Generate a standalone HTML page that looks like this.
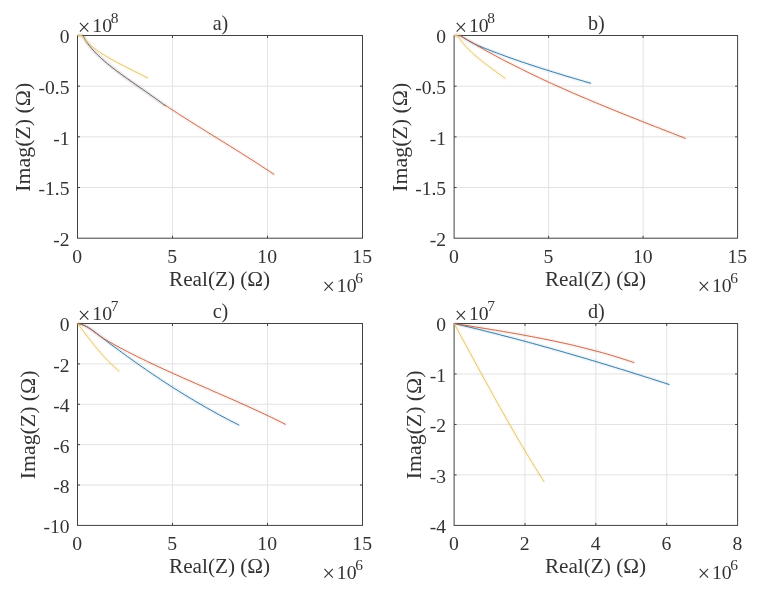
<!DOCTYPE html>
<html><head><meta charset="utf-8"><title>chart</title>
<style>
html,body{margin:0;padding:0;background:#fff;}
svg{display:block;}
text{font-family:"Liberation Serif",serif;fill:#333333;}
.tk{font-size:18.6px;}
.lb{font-size:20.2px;}
.sp{font-size:14.6px;}
.mx{font-size:22.5px;}
.g{stroke:#e3e3e3;stroke-width:1;}
.ax{stroke:#424242;stroke-width:1;fill:none;}
.t{stroke:#424242;stroke-width:1;}
.c{fill:none;stroke-width:0.95;stroke-linejoin:round;stroke-linecap:butt;}
.h{fill:none;stroke-width:4;stroke-opacity:0.07;stroke-linejoin:round;stroke-linecap:butt;}
</style></head><body>
<svg width="757" height="592" viewBox="0 0 757 592">
<rect width="757" height="592" fill="#fff"/>

<g id="ax_a">
<line class="g" x1="172.50" y1="35.50" x2="172.50" y2="238.20"/>
<line class="g" x1="267.50" y1="35.50" x2="267.50" y2="238.20"/>
<line class="g" x1="77.50" y1="86.17" x2="362.50" y2="86.17"/>
<line class="g" x1="77.50" y1="136.85" x2="362.50" y2="136.85"/>
<line class="g" x1="77.50" y1="187.52" x2="362.50" y2="187.52"/>
<rect class="ax" x="77.50" y="35.50" width="285.00" height="202.70"/>
<line class="t" x1="172.50" y1="238.20" x2="172.50" y2="235.70"/>
<line class="t" x1="172.50" y1="35.50" x2="172.50" y2="38.00"/>
<line class="t" x1="267.50" y1="238.20" x2="267.50" y2="235.70"/>
<line class="t" x1="267.50" y1="35.50" x2="267.50" y2="38.00"/>
<line class="t" x1="77.50" y1="86.17" x2="80.00" y2="86.17"/>
<line class="t" x1="362.50" y1="86.17" x2="360.00" y2="86.17"/>
<line class="t" x1="77.50" y1="136.85" x2="80.00" y2="136.85"/>
<line class="t" x1="362.50" y1="136.85" x2="360.00" y2="136.85"/>
<line class="t" x1="77.50" y1="187.52" x2="80.00" y2="187.52"/>
<line class="t" x1="362.50" y1="187.52" x2="360.00" y2="187.52"/>
<path class="h" stroke="#0072BD" d="M77.5 35.5 L82.5 35.6 L83.6 36.6 L85.6 40.6 L86.8 42.3 L88.0 43.9 L89.2 45.5 L90.5 47.1 L91.8 48.6 L93.1 50.1 L94.5 51.6 L95.9 53.1 L97.3 54.5 L98.8 55.9 L100.2 57.3 L101.7 58.7 L103.2 60.0 L104.7 61.4 L106.3 62.7 L107.8 64.0 L109.4 65.3 L111.0 66.5 L112.6 67.8 L114.2 69.0 L115.8 70.3 L117.4 71.5 L119.1 72.7 L120.7 73.9 L122.3 75.1 L124.0 76.3 L125.7 77.5 L127.3 78.7 L129.0 79.9 L130.7 81.1 L132.3 82.2 L134.0 83.4 L135.7 84.6 L137.4 85.7 L139.0 86.9 L140.7 88.1 L142.4 89.2 L144.1 90.4 L145.7 91.6 L147.4 92.7 L149.1 93.9 L150.7 95.1 L152.4 96.3 L154.1 97.4 L155.7 98.6 L157.3 99.8 L159.0 101.0 L160.6 102.2 L162.2 103.4 L163.8 104.7 L165.4 105.9"/>
<path class="c" stroke="#5b5560" d="M77.5 35.5 L82.5 35.6 L83.6 36.6 L85.6 40.6 L86.8 42.3 L88.0 43.9 L89.2 45.5 L90.5 47.1 L91.8 48.6 L93.1 50.1 L94.5 51.6 L95.9 53.1 L97.3 54.5 L98.8 55.9 L100.2 57.3 L101.7 58.7 L103.2 60.0 L104.7 61.4 L106.3 62.7 L107.8 64.0 L109.4 65.3 L111.0 66.5 L112.6 67.8 L114.2 69.0 L115.8 70.3 L117.4 71.5 L119.1 72.7 L120.7 73.9 L122.3 75.1 L124.0 76.3 L125.7 77.5 L127.3 78.7 L129.0 79.9 L130.7 81.1 L132.3 82.2 L134.0 83.4 L135.7 84.6 L137.4 85.7 L139.0 86.9 L140.7 88.1 L142.4 89.2 L144.1 90.4 L145.7 91.6 L147.4 92.7 L149.1 93.9 L150.7 95.1 L152.4 96.3 L154.1 97.4 L155.7 98.6 L157.3 99.8 L159.0 101.0 L160.6 102.2 L162.2 103.4 L163.8 104.7 L165.4 105.9"/>
<path class="h" stroke="#D95319" d="M77.5 35.5 L82.5 35.6 L83.6 36.6 L85.6 40.6 L86.7 42.4 L87.9 44.0 L89.1 45.7 L90.3 47.2 L91.6 48.7 L92.9 50.2 L94.3 51.6 L95.7 53.0 L97.2 54.4 L98.6 55.7 L100.1 57.0 L101.6 58.3 L103.1 59.6 L104.6 60.9 L106.1 62.2 L107.6 63.4 L109.2 64.7 L110.7 65.9 L112.3 67.2 L113.8 68.4 L115.4 69.7 L117.0 70.9 L118.6 72.2 L120.2 73.4 L121.7 74.6 L123.3 75.8 L124.9 77.0 L126.6 78.3 L128.2 79.5 L129.8 80.7 L131.4 81.9 L133.0 83.0 L134.7 84.2 L136.3 85.4 L137.9 86.6 L139.6 87.7 L141.2 88.9 L142.9 90.1 L144.5 91.2 L146.2 92.4 L147.8 93.5 L149.5 94.7 L151.1 95.8 L152.8 96.9 L154.4 98.1 L156.1 99.2 L157.8 100.3 L159.4 101.4 L161.1 102.5 L162.8 103.6 L164.4 104.7 L166.1 105.8 L167.8 106.9 L169.4 108.0 L171.1 109.1 L172.8 110.2 L174.5 111.3 L176.2 112.4 L177.8 113.5 L179.5 114.6 L181.2 115.6 L182.9 116.7 L184.6 117.8 L186.3 118.9 L188.0 119.9 L189.6 121.0 L191.3 122.1 L193.0 123.1 L194.7 124.2 L196.4 125.3 L198.1 126.3 L199.8 127.4 L201.5 128.4 L203.2 129.5 L204.9 130.5 L206.6 131.6 L208.3 132.7 L210.0 133.7 L211.7 134.8 L213.4 135.8 L215.1 136.9 L216.8 137.9 L218.5 139.0 L220.2 140.0 L221.9 141.1 L223.6 142.1 L225.3 143.2 L227.0 144.3 L228.7 145.3 L230.4 146.4 L232.1 147.4 L233.8 148.5 L235.5 149.5 L237.2 150.6 L238.9 151.7 L240.6 152.7 L242.2 153.8 L243.9 154.9 L245.6 155.9 L247.3 157.0 L249.0 158.1 L250.7 159.2 L252.4 160.2 L254.1 161.3 L255.8 162.4 L257.5 163.5 L259.2 164.6 L260.9 165.7 L262.5 166.8 L264.2 167.9 L265.9 169.0 L267.6 170.1 L269.3 171.2 L270.9 172.3 L272.6 173.4 L274.3 174.5"/>
<path class="c" stroke="#bf5f45" d="M164.4 104.7 L166.1 105.8 L167.8 106.9 L169.4 108.0 L171.1 109.1 L172.8 110.2 L174.5 111.3 L176.2 112.4 L177.8 113.5 L179.5 114.6 L181.2 115.6 L182.9 116.7 L184.6 117.8 L186.3 118.9 L188.0 119.9 L189.6 121.0 L191.3 122.1 L193.0 123.1 L194.7 124.2 L196.4 125.3 L198.1 126.3 L199.8 127.4 L201.5 128.4 L203.2 129.5 L204.9 130.5 L206.6 131.6 L208.3 132.7 L210.0 133.7 L211.7 134.8 L213.4 135.8 L215.1 136.9 L216.8 137.9 L218.5 139.0 L220.2 140.0 L221.9 141.1 L223.6 142.1 L225.3 143.2 L227.0 144.3 L228.7 145.3 L230.4 146.4 L232.1 147.4 L233.8 148.5 L235.5 149.5 L237.2 150.6 L238.9 151.7 L240.6 152.7 L242.2 153.8 L243.9 154.9 L245.6 155.9 L247.3 157.0 L249.0 158.1 L250.7 159.2 L252.4 160.2 L254.1 161.3 L255.8 162.4 L257.5 163.5 L259.2 164.6 L260.9 165.7 L262.5 166.8 L264.2 167.9 L265.9 169.0 L267.6 170.1 L269.3 171.2 L270.9 172.3 L272.6 173.4 L274.3 174.5"/>
<path class="h" stroke="#EDB120" d="M77.5 35.5 L81.9 35.5 L84.5 39.0 L85.9 40.5 L87.3 42.0 L88.8 43.4 L90.2 44.8 L91.8 46.1 L93.3 47.4 L94.9 48.7 L96.5 49.9 L98.1 51.1 L99.7 52.2 L101.4 53.3 L103.1 54.4 L104.8 55.5 L106.5 56.5 L108.3 57.5 L110.0 58.6 L111.8 59.5 L113.6 60.5 L115.4 61.5 L117.2 62.5 L119.0 63.4 L120.8 64.4 L122.6 65.3 L124.5 66.2 L126.3 67.2 L128.1 68.1 L130.0 69.0 L131.8 69.9 L133.6 70.9 L135.4 71.8 L137.3 72.7 L139.1 73.6 L140.9 74.5 L142.7 75.4 L144.5 76.4 L146.2 77.3 L148.0 78.2"/>
<path class="c" stroke="#dfc457" d="M77.5 35.5 L81.9 35.5 L84.5 39.0 L85.9 40.5 L87.3 42.0 L88.8 43.4 L90.2 44.8 L91.8 46.1 L93.3 47.4 L94.9 48.7 L96.5 49.9 L98.1 51.1 L99.7 52.2 L101.4 53.3 L103.1 54.4 L104.8 55.5 L106.5 56.5 L108.3 57.5 L110.0 58.6 L111.8 59.5 L113.6 60.5 L115.4 61.5 L117.2 62.5 L119.0 63.4 L120.8 64.4 L122.6 65.3 L124.5 66.2 L126.3 67.2 L128.1 68.1 L130.0 69.0 L131.8 69.9 L133.6 70.9 L135.4 71.8 L137.3 72.7 L139.1 73.6 L140.9 74.5 L142.7 75.4 L144.5 76.4 L146.2 77.3 L148.0 78.2"/>
</g>
<g id="ax_b">
<line class="g" x1="548.60" y1="35.50" x2="548.60" y2="238.20"/>
<line class="g" x1="643.10" y1="35.50" x2="643.10" y2="238.20"/>
<line class="g" x1="454.10" y1="86.17" x2="737.60" y2="86.17"/>
<line class="g" x1="454.10" y1="136.85" x2="737.60" y2="136.85"/>
<line class="g" x1="454.10" y1="187.52" x2="737.60" y2="187.52"/>
<rect class="ax" x="454.10" y="35.50" width="283.50" height="202.70"/>
<line class="t" x1="548.60" y1="238.20" x2="548.60" y2="235.70"/>
<line class="t" x1="548.60" y1="35.50" x2="548.60" y2="38.00"/>
<line class="t" x1="643.10" y1="238.20" x2="643.10" y2="235.70"/>
<line class="t" x1="643.10" y1="35.50" x2="643.10" y2="38.00"/>
<line class="t" x1="454.10" y1="86.17" x2="456.60" y2="86.17"/>
<line class="t" x1="737.60" y1="86.17" x2="735.10" y2="86.17"/>
<line class="t" x1="454.10" y1="136.85" x2="456.60" y2="136.85"/>
<line class="t" x1="737.60" y1="136.85" x2="735.10" y2="136.85"/>
<line class="t" x1="454.10" y1="187.52" x2="456.60" y2="187.52"/>
<line class="t" x1="737.60" y1="187.52" x2="735.10" y2="187.52"/>
<path class="h" stroke="#0072BD" d="M454.1 35.5 L459.5 35.6 L460.6 35.8 L462.3 36.9 L464.1 38.0 L465.8 39.1 L467.6 40.1 L469.3 41.1 L471.1 42.1 L472.9 43.0 L474.7 43.9 L476.5 44.8 L478.3 45.6 L480.1 46.4 L481.9 47.1 L483.7 47.9 L485.6 48.6 L487.4 49.3 L489.3 50.1 L491.1 50.8 L493.0 51.5 L494.8 52.2 L496.7 52.9 L498.6 53.6 L500.5 54.3 L502.4 55.0 L504.2 55.7 L506.1 56.4 L508.0 57.1 L509.9 57.8 L511.8 58.4 L513.8 59.1 L515.7 59.8 L517.6 60.4 L519.5 61.1 L521.4 61.8 L523.4 62.4 L525.3 63.1 L527.2 63.7 L529.2 64.4 L531.1 65.0 L533.0 65.6 L535.0 66.3 L536.9 66.9 L538.8 67.5 L540.8 68.2 L542.7 68.8 L544.7 69.4 L546.6 70.0 L548.6 70.6 L550.5 71.2 L552.4 71.8 L554.4 72.4 L556.3 73.0 L558.3 73.6 L560.2 74.2 L562.1 74.8 L564.1 75.4 L566.0 76.0 L567.9 76.6 L569.9 77.1 L571.8 77.7 L573.7 78.3 L575.7 78.9 L577.6 79.4 L579.5 80.0 L581.4 80.5 L583.3 81.1 L585.2 81.7 L587.1 82.2 L589.0 82.8 L590.9 83.3"/>
<path class="c" stroke="#2a6f9c" d="M454.1 35.5 L459.5 35.6 L460.6 35.8 L462.3 36.9 L464.1 38.0 L465.8 39.1 L467.6 40.1 L469.3 41.1 L471.1 42.1 L472.9 43.0 L474.7 43.9 L476.5 44.8 L478.3 45.6 L480.1 46.4 L481.9 47.1 L483.7 47.9 L485.6 48.6 L487.4 49.3 L489.3 50.1 L491.1 50.8 L493.0 51.5 L494.8 52.2 L496.7 52.9 L498.6 53.6 L500.5 54.3 L502.4 55.0 L504.2 55.7 L506.1 56.4 L508.0 57.1 L509.9 57.8 L511.8 58.4 L513.8 59.1 L515.7 59.8 L517.6 60.4 L519.5 61.1 L521.4 61.8 L523.4 62.4 L525.3 63.1 L527.2 63.7 L529.2 64.4 L531.1 65.0 L533.0 65.6 L535.0 66.3 L536.9 66.9 L538.8 67.5 L540.8 68.2 L542.7 68.8 L544.7 69.4 L546.6 70.0 L548.6 70.6 L550.5 71.2 L552.4 71.8 L554.4 72.4 L556.3 73.0 L558.3 73.6 L560.2 74.2 L562.1 74.8 L564.1 75.4 L566.0 76.0 L567.9 76.6 L569.9 77.1 L571.8 77.7 L573.7 78.3 L575.7 78.9 L577.6 79.4 L579.5 80.0 L581.4 80.5 L583.3 81.1 L585.2 81.7 L587.1 82.2 L589.0 82.8 L590.9 83.3"/>
<path class="h" stroke="#D95319" d="M454.1 35.5 L459.5 35.6 L460.6 35.8 L462.3 36.8 L464.0 37.9 L465.8 38.9 L467.5 40.0 L469.2 41.0 L471.0 42.0 L472.7 43.0 L474.4 44.0 L476.2 45.0 L477.9 46.1 L479.7 47.0 L481.4 48.0 L483.2 49.0 L484.9 50.0 L486.7 51.0 L488.5 52.0 L490.2 52.9 L492.0 53.9 L493.8 54.9 L495.5 55.8 L497.3 56.8 L499.1 57.7 L500.9 58.7 L502.6 59.6 L504.4 60.5 L506.2 61.5 L508.0 62.4 L509.8 63.3 L511.6 64.2 L513.4 65.1 L515.2 66.0 L517.0 66.9 L518.8 67.8 L520.6 68.7 L522.4 69.6 L524.2 70.5 L526.0 71.4 L527.8 72.3 L529.6 73.2 L531.4 74.0 L533.2 74.9 L535.0 75.8 L536.9 76.6 L538.7 77.5 L540.5 78.4 L542.3 79.2 L544.2 80.1 L546.0 80.9 L547.8 81.8 L549.6 82.6 L551.5 83.4 L553.3 84.3 L555.1 85.1 L557.0 85.9 L558.8 86.8 L560.7 87.6 L562.5 88.4 L564.3 89.2 L566.2 90.0 L568.0 90.8 L569.9 91.7 L571.7 92.5 L573.6 93.3 L575.4 94.1 L577.3 94.9 L579.1 95.7 L581.0 96.5 L582.8 97.2 L584.7 98.0 L586.5 98.8 L588.4 99.6 L590.3 100.4 L592.1 101.2 L594.0 102.0 L595.8 102.7 L597.7 103.5 L599.6 104.3 L601.4 105.0 L603.3 105.8 L605.2 106.6 L607.0 107.3 L608.9 108.1 L610.8 108.9 L612.6 109.6 L614.5 110.4 L616.4 111.2 L618.2 111.9 L620.1 112.7 L622.0 113.4 L623.8 114.2 L625.7 114.9 L627.6 115.7 L629.5 116.4 L631.3 117.2 L633.2 117.9 L635.1 118.6 L637.0 119.4 L638.8 120.1 L640.7 120.9 L642.6 121.6 L644.5 122.4 L646.3 123.1 L648.2 123.8 L650.1 124.6 L652.0 125.3 L653.8 126.0 L655.7 126.8 L657.6 127.5 L659.5 128.2 L661.3 129.0 L663.2 129.7 L665.1 130.4 L667.0 131.2 L668.8 131.9 L670.7 132.6 L672.6 133.4 L674.5 134.1 L676.3 134.8 L678.2 135.6 L680.1 136.3 L682.0 137.0 L683.8 137.8 L685.7 138.5"/>
<path class="c" stroke="#bf5f45" d="M454.1 35.5 L459.5 35.6 L460.6 35.8 L462.3 36.8 L464.0 37.9 L465.8 38.9 L467.5 40.0 L469.2 41.0 L471.0 42.0 L472.7 43.0 L474.4 44.0 L476.2 45.0 L477.9 46.1 L479.7 47.0 L481.4 48.0 L483.2 49.0 L484.9 50.0 L486.7 51.0 L488.5 52.0 L490.2 52.9 L492.0 53.9 L493.8 54.9 L495.5 55.8 L497.3 56.8 L499.1 57.7 L500.9 58.7 L502.6 59.6 L504.4 60.5 L506.2 61.5 L508.0 62.4 L509.8 63.3 L511.6 64.2 L513.4 65.1 L515.2 66.0 L517.0 66.9 L518.8 67.8 L520.6 68.7 L522.4 69.6 L524.2 70.5 L526.0 71.4 L527.8 72.3 L529.6 73.2 L531.4 74.0 L533.2 74.9 L535.0 75.8 L536.9 76.6 L538.7 77.5 L540.5 78.4 L542.3 79.2 L544.2 80.1 L546.0 80.9 L547.8 81.8 L549.6 82.6 L551.5 83.4 L553.3 84.3 L555.1 85.1 L557.0 85.9 L558.8 86.8 L560.7 87.6 L562.5 88.4 L564.3 89.2 L566.2 90.0 L568.0 90.8 L569.9 91.7 L571.7 92.5 L573.6 93.3 L575.4 94.1 L577.3 94.9 L579.1 95.7 L581.0 96.5 L582.8 97.2 L584.7 98.0 L586.5 98.8 L588.4 99.6 L590.3 100.4 L592.1 101.2 L594.0 102.0 L595.8 102.7 L597.7 103.5 L599.6 104.3 L601.4 105.0 L603.3 105.8 L605.2 106.6 L607.0 107.3 L608.9 108.1 L610.8 108.9 L612.6 109.6 L614.5 110.4 L616.4 111.2 L618.2 111.9 L620.1 112.7 L622.0 113.4 L623.8 114.2 L625.7 114.9 L627.6 115.7 L629.5 116.4 L631.3 117.2 L633.2 117.9 L635.1 118.6 L637.0 119.4 L638.8 120.1 L640.7 120.9 L642.6 121.6 L644.5 122.4 L646.3 123.1 L648.2 123.8 L650.1 124.6 L652.0 125.3 L653.8 126.0 L655.7 126.8 L657.6 127.5 L659.5 128.2 L661.3 129.0 L663.2 129.7 L665.1 130.4 L667.0 131.2 L668.8 131.9 L670.7 132.6 L672.6 133.4 L674.5 134.1 L676.3 134.8 L678.2 135.6 L680.1 136.3 L682.0 137.0 L683.8 137.8 L685.7 138.5"/>
<path class="h" stroke="#EDB120" d="M454.1 35.5 L457.4 35.6 L458.2 36.6 L459.4 38.3 L460.6 40.0 L461.8 41.6 L463.1 43.2 L464.4 44.8 L465.7 46.3 L467.1 47.8 L468.5 49.3 L470.0 50.7 L471.4 52.1 L472.9 53.5 L474.5 54.9 L476.0 56.3 L477.6 57.6 L479.1 58.9 L480.7 60.2 L482.4 61.5 L484.0 62.8 L485.6 64.0 L487.3 65.3 L488.9 66.5 L490.6 67.7 L492.2 68.9 L493.9 70.2 L495.6 71.4 L497.2 72.6 L498.9 73.8 L500.6 75.0 L502.2 76.2 L503.9 77.4 L505.5 78.6"/>
<path class="c" stroke="#dfc457" d="M454.1 35.5 L457.4 35.6 L458.2 36.6 L459.4 38.3 L460.6 40.0 L461.8 41.6 L463.1 43.2 L464.4 44.8 L465.7 46.3 L467.1 47.8 L468.5 49.3 L470.0 50.7 L471.4 52.1 L472.9 53.5 L474.5 54.9 L476.0 56.3 L477.6 57.6 L479.1 58.9 L480.7 60.2 L482.4 61.5 L484.0 62.8 L485.6 64.0 L487.3 65.3 L488.9 66.5 L490.6 67.7 L492.2 68.9 L493.9 70.2 L495.6 71.4 L497.2 72.6 L498.9 73.8 L500.6 75.0 L502.2 76.2 L503.9 77.4 L505.5 78.6"/>
</g>
<g id="ax_c">
<line class="g" x1="172.50" y1="323.50" x2="172.50" y2="525.40"/>
<line class="g" x1="267.50" y1="323.50" x2="267.50" y2="525.40"/>
<line class="g" x1="77.50" y1="363.88" x2="362.50" y2="363.88"/>
<line class="g" x1="77.50" y1="404.26" x2="362.50" y2="404.26"/>
<line class="g" x1="77.50" y1="444.64" x2="362.50" y2="444.64"/>
<line class="g" x1="77.50" y1="485.02" x2="362.50" y2="485.02"/>
<rect class="ax" x="77.50" y="323.50" width="285.00" height="201.90"/>
<line class="t" x1="172.50" y1="525.40" x2="172.50" y2="522.90"/>
<line class="t" x1="172.50" y1="323.50" x2="172.50" y2="326.00"/>
<line class="t" x1="267.50" y1="525.40" x2="267.50" y2="522.90"/>
<line class="t" x1="267.50" y1="323.50" x2="267.50" y2="326.00"/>
<line class="t" x1="77.50" y1="363.88" x2="80.00" y2="363.88"/>
<line class="t" x1="362.50" y1="363.88" x2="360.00" y2="363.88"/>
<line class="t" x1="77.50" y1="404.26" x2="80.00" y2="404.26"/>
<line class="t" x1="362.50" y1="404.26" x2="360.00" y2="404.26"/>
<line class="t" x1="77.50" y1="444.64" x2="80.00" y2="444.64"/>
<line class="t" x1="362.50" y1="444.64" x2="360.00" y2="444.64"/>
<line class="t" x1="77.50" y1="485.02" x2="80.00" y2="485.02"/>
<line class="t" x1="362.50" y1="485.02" x2="360.00" y2="485.02"/>
<path class="h" stroke="#0072BD" d="M77.5 323.5 L79.4 323.9 L81.3 324.4 L83.2 325.0 L85.0 325.8 L86.7 326.7 L88.5 327.7 L90.2 328.7 L91.9 329.9 L93.6 331.1 L95.2 332.3 L96.8 333.6 L98.5 334.8 L100.1 336.1 L101.7 337.3 L103.3 338.6 L104.9 339.8 L106.5 341.0 L108.1 342.2 L109.7 343.5 L111.3 344.7 L113.0 345.9 L114.6 347.1 L116.2 348.3 L117.8 349.5 L119.4 350.6 L121.0 351.8 L122.6 353.0 L124.3 354.2 L125.9 355.4 L127.5 356.6 L129.2 357.7 L130.8 358.9 L132.4 360.1 L134.1 361.3 L135.7 362.4 L137.4 363.6 L139.0 364.8 L140.7 365.9 L142.3 367.1 L144.0 368.2 L145.7 369.4 L147.3 370.5 L149.0 371.7 L150.7 372.8 L152.3 373.9 L154.0 375.1 L155.7 376.2 L157.4 377.3 L159.0 378.4 L160.7 379.6 L162.4 380.7 L164.1 381.8 L165.8 382.9 L167.5 384.0 L169.2 385.1 L170.9 386.2 L172.6 387.3 L174.3 388.4 L176.0 389.4 L177.7 390.5 L179.5 391.6 L181.2 392.7 L182.9 393.7 L184.6 394.8 L186.3 395.8 L188.1 396.9 L189.8 397.9 L191.5 399.0 L193.3 400.0 L195.0 401.1 L196.7 402.1 L198.5 403.1 L200.2 404.1 L202.0 405.1 L203.7 406.2 L205.5 407.2 L207.3 408.2 L209.0 409.1 L210.8 410.1 L212.5 411.1 L214.3 412.1 L216.1 413.1 L217.8 414.0 L219.6 415.0 L221.4 416.0 L223.2 416.9 L225.0 417.9 L226.7 418.8 L228.5 419.7 L230.3 420.7 L232.1 421.6 L233.9 422.5 L235.7 423.4 L237.5 424.3 L239.3 425.2"/>
<path class="c" stroke="#2a6f9c" d="M77.5 323.5 L79.4 323.9 L81.3 324.4 L83.2 325.0 L85.0 325.8 L86.7 326.7 L88.5 327.7 L90.2 328.7 L91.9 329.9 L93.6 331.1 L95.2 332.3 L96.8 333.6 L98.5 334.8 L100.1 336.1 L101.7 337.3 L103.3 338.6 L104.9 339.8 L106.5 341.0 L108.1 342.2 L109.7 343.5 L111.3 344.7 L113.0 345.9 L114.6 347.1 L116.2 348.3 L117.8 349.5 L119.4 350.6 L121.0 351.8 L122.6 353.0 L124.3 354.2 L125.9 355.4 L127.5 356.6 L129.2 357.7 L130.8 358.9 L132.4 360.1 L134.1 361.3 L135.7 362.4 L137.4 363.6 L139.0 364.8 L140.7 365.9 L142.3 367.1 L144.0 368.2 L145.7 369.4 L147.3 370.5 L149.0 371.7 L150.7 372.8 L152.3 373.9 L154.0 375.1 L155.7 376.2 L157.4 377.3 L159.0 378.4 L160.7 379.6 L162.4 380.7 L164.1 381.8 L165.8 382.9 L167.5 384.0 L169.2 385.1 L170.9 386.2 L172.6 387.3 L174.3 388.4 L176.0 389.4 L177.7 390.5 L179.5 391.6 L181.2 392.7 L182.9 393.7 L184.6 394.8 L186.3 395.8 L188.1 396.9 L189.8 397.9 L191.5 399.0 L193.3 400.0 L195.0 401.1 L196.7 402.1 L198.5 403.1 L200.2 404.1 L202.0 405.1 L203.7 406.2 L205.5 407.2 L207.3 408.2 L209.0 409.1 L210.8 410.1 L212.5 411.1 L214.3 412.1 L216.1 413.1 L217.8 414.0 L219.6 415.0 L221.4 416.0 L223.2 416.9 L225.0 417.9 L226.7 418.8 L228.5 419.7 L230.3 420.7 L232.1 421.6 L233.9 422.5 L235.7 423.4 L237.5 424.3 L239.3 425.2"/>
<path class="h" stroke="#D95319" d="M77.5 323.5 L79.4 323.8 L81.3 324.4 L83.2 325.0 L84.9 325.8 L86.7 326.7 L88.4 327.8 L90.0 328.8 L91.7 330.0 L93.3 331.2 L94.9 332.4 L96.6 333.6 L98.2 334.8 L99.9 336.0 L101.5 337.1 L103.2 338.2 L104.9 339.3 L106.6 340.3 L108.3 341.3 L110.1 342.3 L111.8 343.3 L113.5 344.2 L115.3 345.2 L117.0 346.1 L118.8 347.1 L120.5 348.0 L122.3 348.9 L124.1 349.9 L125.8 350.8 L127.6 351.7 L129.4 352.6 L131.2 353.5 L132.9 354.4 L134.7 355.3 L136.5 356.2 L138.3 357.1 L140.1 358.0 L141.9 358.8 L143.7 359.7 L145.5 360.6 L147.3 361.5 L149.1 362.3 L150.9 363.2 L152.7 364.0 L154.5 364.9 L156.3 365.7 L158.1 366.6 L159.9 367.4 L161.8 368.3 L163.6 369.1 L165.4 369.9 L167.2 370.8 L169.0 371.6 L170.9 372.4 L172.7 373.3 L174.5 374.1 L176.3 374.9 L178.2 375.7 L180.0 376.5 L181.8 377.4 L183.7 378.2 L185.5 379.0 L187.3 379.8 L189.2 380.6 L191.0 381.4 L192.9 382.2 L194.7 383.0 L196.5 383.8 L198.4 384.6 L200.2 385.4 L202.0 386.2 L203.9 387.0 L205.7 387.8 L207.6 388.6 L209.4 389.4 L211.2 390.2 L213.1 391.1 L214.9 391.9 L216.8 392.7 L218.6 393.5 L220.4 394.3 L222.3 395.1 L224.1 395.9 L226.0 396.7 L227.8 397.5 L229.6 398.3 L231.5 399.1 L233.3 399.9 L235.1 400.7 L237.0 401.5 L238.8 402.4 L240.6 403.2 L242.5 404.0 L244.3 404.8 L246.1 405.6 L247.9 406.5 L249.8 407.3 L251.6 408.1 L253.4 409.0 L255.2 409.8 L257.0 410.6 L258.8 411.5 L260.7 412.3 L262.5 413.2 L264.3 414.0 L266.1 414.9 L267.9 415.7 L269.7 416.6 L271.5 417.4 L273.3 418.3 L275.1 419.2 L276.9 420.1 L278.7 420.9 L280.5 421.8 L282.2 422.7 L284.0 423.6 L285.8 424.5"/>
<path class="c" stroke="#bf5f45" d="M77.5 323.5 L79.4 323.8 L81.3 324.4 L83.2 325.0 L84.9 325.8 L86.7 326.7 L88.4 327.8 L90.0 328.8 L91.7 330.0 L93.3 331.2 L94.9 332.4 L96.6 333.6 L98.2 334.8 L99.9 336.0 L101.5 337.1 L103.2 338.2 L104.9 339.3 L106.6 340.3 L108.3 341.3 L110.1 342.3 L111.8 343.3 L113.5 344.2 L115.3 345.2 L117.0 346.1 L118.8 347.1 L120.5 348.0 L122.3 348.9 L124.1 349.9 L125.8 350.8 L127.6 351.7 L129.4 352.6 L131.2 353.5 L132.9 354.4 L134.7 355.3 L136.5 356.2 L138.3 357.1 L140.1 358.0 L141.9 358.8 L143.7 359.7 L145.5 360.6 L147.3 361.5 L149.1 362.3 L150.9 363.2 L152.7 364.0 L154.5 364.9 L156.3 365.7 L158.1 366.6 L159.9 367.4 L161.8 368.3 L163.6 369.1 L165.4 369.9 L167.2 370.8 L169.0 371.6 L170.9 372.4 L172.7 373.3 L174.5 374.1 L176.3 374.9 L178.2 375.7 L180.0 376.5 L181.8 377.4 L183.7 378.2 L185.5 379.0 L187.3 379.8 L189.2 380.6 L191.0 381.4 L192.9 382.2 L194.7 383.0 L196.5 383.8 L198.4 384.6 L200.2 385.4 L202.0 386.2 L203.9 387.0 L205.7 387.8 L207.6 388.6 L209.4 389.4 L211.2 390.2 L213.1 391.1 L214.9 391.9 L216.8 392.7 L218.6 393.5 L220.4 394.3 L222.3 395.1 L224.1 395.9 L226.0 396.7 L227.8 397.5 L229.6 398.3 L231.5 399.1 L233.3 399.9 L235.1 400.7 L237.0 401.5 L238.8 402.4 L240.6 403.2 L242.5 404.0 L244.3 404.8 L246.1 405.6 L247.9 406.5 L249.8 407.3 L251.6 408.1 L253.4 409.0 L255.2 409.8 L257.0 410.6 L258.8 411.5 L260.7 412.3 L262.5 413.2 L264.3 414.0 L266.1 414.9 L267.9 415.7 L269.7 416.6 L271.5 417.4 L273.3 418.3 L275.1 419.2 L276.9 420.1 L278.7 420.9 L280.5 421.8 L282.2 422.7 L284.0 423.6 L285.8 424.5"/>
<path class="h" stroke="#EDB120" d="M77.5 323.5 L78.8 325.1 L80.0 326.8 L81.3 328.4 L82.5 330.0 L83.8 331.7 L85.0 333.3 L86.3 334.9 L87.5 336.6 L88.8 338.2 L90.0 339.8 L91.3 341.4 L92.6 343.1 L93.9 344.7 L95.2 346.3 L96.5 347.9 L97.8 349.4 L99.1 351.0 L100.4 352.6 L101.8 354.1 L103.2 355.7 L104.5 357.2 L105.9 358.7 L107.4 360.2 L108.8 361.6 L110.2 363.1 L111.7 364.5 L113.2 365.9 L114.7 367.3 L116.3 368.7 L117.8 370.1 L119.4 371.4"/>
<path class="c" stroke="#dfc457" d="M77.5 323.5 L78.8 325.1 L80.0 326.8 L81.3 328.4 L82.5 330.0 L83.8 331.7 L85.0 333.3 L86.3 334.9 L87.5 336.6 L88.8 338.2 L90.0 339.8 L91.3 341.4 L92.6 343.1 L93.9 344.7 L95.2 346.3 L96.5 347.9 L97.8 349.4 L99.1 351.0 L100.4 352.6 L101.8 354.1 L103.2 355.7 L104.5 357.2 L105.9 358.7 L107.4 360.2 L108.8 361.6 L110.2 363.1 L111.7 364.5 L113.2 365.9 L114.7 367.3 L116.3 368.7 L117.8 370.1 L119.4 371.4"/>
</g>
<g id="ax_d">
<line class="g" x1="524.98" y1="323.50" x2="524.98" y2="525.40"/>
<line class="g" x1="595.85" y1="323.50" x2="595.85" y2="525.40"/>
<line class="g" x1="666.73" y1="323.50" x2="666.73" y2="525.40"/>
<line class="g" x1="454.10" y1="373.98" x2="737.60" y2="373.98"/>
<line class="g" x1="454.10" y1="424.45" x2="737.60" y2="424.45"/>
<line class="g" x1="454.10" y1="474.92" x2="737.60" y2="474.92"/>
<rect class="ax" x="454.10" y="323.50" width="283.50" height="201.90"/>
<line class="t" x1="524.98" y1="525.40" x2="524.98" y2="522.90"/>
<line class="t" x1="524.98" y1="323.50" x2="524.98" y2="326.00"/>
<line class="t" x1="595.85" y1="525.40" x2="595.85" y2="522.90"/>
<line class="t" x1="595.85" y1="323.50" x2="595.85" y2="326.00"/>
<line class="t" x1="666.73" y1="525.40" x2="666.73" y2="522.90"/>
<line class="t" x1="666.73" y1="323.50" x2="666.73" y2="326.00"/>
<line class="t" x1="454.10" y1="373.98" x2="456.60" y2="373.98"/>
<line class="t" x1="737.60" y1="373.98" x2="735.10" y2="373.98"/>
<line class="t" x1="454.10" y1="424.45" x2="456.60" y2="424.45"/>
<line class="t" x1="737.60" y1="424.45" x2="735.10" y2="424.45"/>
<line class="t" x1="454.10" y1="474.92" x2="456.60" y2="474.92"/>
<line class="t" x1="737.60" y1="474.92" x2="735.10" y2="474.92"/>
<path class="h" stroke="#0072BD" d="M454.1 323.5 L456.1 324.0 L458.0 324.4 L460.0 324.9 L462.0 325.3 L463.9 325.8 L465.9 326.3 L467.8 326.8 L469.8 327.2 L471.8 327.7 L473.7 328.2 L475.7 328.7 L477.6 329.1 L479.6 329.6 L481.6 330.1 L483.5 330.6 L485.5 331.1 L487.4 331.6 L489.4 332.1 L491.3 332.6 L493.3 333.0 L495.2 333.5 L497.2 334.0 L499.2 334.5 L501.1 335.1 L503.1 335.6 L505.0 336.1 L507.0 336.6 L508.9 337.1 L510.9 337.6 L512.8 338.1 L514.8 338.6 L516.7 339.1 L518.7 339.7 L520.6 340.2 L522.6 340.7 L524.5 341.2 L526.5 341.7 L528.4 342.3 L530.4 342.8 L532.3 343.3 L534.3 343.9 L536.2 344.4 L538.1 344.9 L540.1 345.5 L542.0 346.0 L544.0 346.6 L545.9 347.1 L547.9 347.6 L549.8 348.2 L551.8 348.7 L553.7 349.3 L555.6 349.8 L557.6 350.4 L559.5 350.9 L561.5 351.5 L563.4 352.0 L565.3 352.6 L567.3 353.2 L569.2 353.7 L571.2 354.3 L573.1 354.8 L575.0 355.4 L577.0 356.0 L578.9 356.5 L580.8 357.1 L582.8 357.7 L584.7 358.2 L586.7 358.8 L588.6 359.4 L590.5 360.0 L592.5 360.5 L594.4 361.1 L596.3 361.7 L598.3 362.3 L600.2 362.9 L602.1 363.5 L604.1 364.0 L606.0 364.6 L607.9 365.2 L609.8 365.8 L611.8 366.4 L613.7 367.0 L615.6 367.6 L617.6 368.2 L619.5 368.8 L621.4 369.4 L623.4 369.9 L625.3 370.5 L627.2 371.1 L629.1 371.7 L631.1 372.3 L633.0 372.9 L634.9 373.6 L636.8 374.2 L638.8 374.8 L640.7 375.4 L642.6 376.0 L644.5 376.6 L646.5 377.2 L648.4 377.8 L650.3 378.4 L652.2 379.0 L654.1 379.6 L656.1 380.3 L658.0 380.9 L659.9 381.5 L661.8 382.1 L663.7 382.7 L665.7 383.4 L667.6 384.0 L669.5 384.6"/>
<path class="c" stroke="#2a6f9c" d="M454.1 323.5 L456.1 324.0 L458.0 324.4 L460.0 324.9 L462.0 325.3 L463.9 325.8 L465.9 326.3 L467.8 326.8 L469.8 327.2 L471.8 327.7 L473.7 328.2 L475.7 328.7 L477.6 329.1 L479.6 329.6 L481.6 330.1 L483.5 330.6 L485.5 331.1 L487.4 331.6 L489.4 332.1 L491.3 332.6 L493.3 333.0 L495.2 333.5 L497.2 334.0 L499.2 334.5 L501.1 335.1 L503.1 335.6 L505.0 336.1 L507.0 336.6 L508.9 337.1 L510.9 337.6 L512.8 338.1 L514.8 338.6 L516.7 339.1 L518.7 339.7 L520.6 340.2 L522.6 340.7 L524.5 341.2 L526.5 341.7 L528.4 342.3 L530.4 342.8 L532.3 343.3 L534.3 343.9 L536.2 344.4 L538.1 344.9 L540.1 345.5 L542.0 346.0 L544.0 346.6 L545.9 347.1 L547.9 347.6 L549.8 348.2 L551.8 348.7 L553.7 349.3 L555.6 349.8 L557.6 350.4 L559.5 350.9 L561.5 351.5 L563.4 352.0 L565.3 352.6 L567.3 353.2 L569.2 353.7 L571.2 354.3 L573.1 354.8 L575.0 355.4 L577.0 356.0 L578.9 356.5 L580.8 357.1 L582.8 357.7 L584.7 358.2 L586.7 358.8 L588.6 359.4 L590.5 360.0 L592.5 360.5 L594.4 361.1 L596.3 361.7 L598.3 362.3 L600.2 362.9 L602.1 363.5 L604.1 364.0 L606.0 364.6 L607.9 365.2 L609.8 365.8 L611.8 366.4 L613.7 367.0 L615.6 367.6 L617.6 368.2 L619.5 368.8 L621.4 369.4 L623.4 369.9 L625.3 370.5 L627.2 371.1 L629.1 371.7 L631.1 372.3 L633.0 372.9 L634.9 373.6 L636.8 374.2 L638.8 374.8 L640.7 375.4 L642.6 376.0 L644.5 376.6 L646.5 377.2 L648.4 377.8 L650.3 378.4 L652.2 379.0 L654.1 379.6 L656.1 380.3 L658.0 380.9 L659.9 381.5 L661.8 382.1 L663.7 382.7 L665.7 383.4 L667.6 384.0 L669.5 384.6"/>
<path class="h" stroke="#D95319" d="M454.1 323.5 L456.1 323.8 L458.1 324.1 L460.0 324.5 L462.0 324.8 L464.0 325.1 L466.0 325.4 L468.0 325.7 L469.9 326.0 L471.9 326.4 L473.9 326.7 L475.9 327.0 L477.9 327.3 L479.9 327.6 L481.8 328.0 L483.8 328.3 L485.8 328.6 L487.8 328.9 L489.8 329.3 L491.7 329.6 L493.7 329.9 L495.7 330.2 L497.7 330.6 L499.7 330.9 L501.6 331.2 L503.6 331.6 L505.6 331.9 L507.6 332.3 L509.6 332.6 L511.5 332.9 L513.5 333.3 L515.5 333.6 L517.5 334.0 L519.4 334.3 L521.4 334.7 L523.4 335.1 L525.4 335.4 L527.3 335.8 L529.3 336.2 L531.3 336.5 L533.3 336.9 L535.2 337.3 L537.2 337.7 L539.2 338.0 L541.2 338.4 L543.1 338.8 L545.1 339.2 L547.1 339.6 L549.0 340.0 L551.0 340.4 L552.9 340.8 L554.9 341.2 L556.9 341.6 L558.8 342.1 L560.8 342.5 L562.8 342.9 L564.7 343.4 L566.7 343.8 L568.6 344.2 L570.6 344.7 L572.5 345.1 L574.5 345.6 L576.4 346.1 L578.4 346.5 L580.3 347.0 L582.3 347.5 L584.2 348.0 L586.2 348.5 L588.1 349.0 L590.1 349.5 L592.0 350.0 L593.9 350.5 L595.9 351.0 L597.8 351.5 L599.8 352.0 L601.7 352.6 L603.6 353.1 L605.5 353.7 L607.5 354.2 L609.4 354.8 L611.3 355.4 L613.3 355.9 L615.2 356.5 L617.1 357.1 L619.0 357.7 L620.9 358.3 L622.8 358.9 L624.8 359.5 L626.7 360.1 L628.6 360.8 L630.5 361.4 L632.4 362.0 L634.3 362.7"/>
<path class="c" stroke="#bf5f45" d="M454.1 323.5 L456.1 323.8 L458.1 324.1 L460.0 324.5 L462.0 324.8 L464.0 325.1 L466.0 325.4 L468.0 325.7 L469.9 326.0 L471.9 326.4 L473.9 326.7 L475.9 327.0 L477.9 327.3 L479.9 327.6 L481.8 328.0 L483.8 328.3 L485.8 328.6 L487.8 328.9 L489.8 329.3 L491.7 329.6 L493.7 329.9 L495.7 330.2 L497.7 330.6 L499.7 330.9 L501.6 331.2 L503.6 331.6 L505.6 331.9 L507.6 332.3 L509.6 332.6 L511.5 332.9 L513.5 333.3 L515.5 333.6 L517.5 334.0 L519.4 334.3 L521.4 334.7 L523.4 335.1 L525.4 335.4 L527.3 335.8 L529.3 336.2 L531.3 336.5 L533.3 336.9 L535.2 337.3 L537.2 337.7 L539.2 338.0 L541.2 338.4 L543.1 338.8 L545.1 339.2 L547.1 339.6 L549.0 340.0 L551.0 340.4 L552.9 340.8 L554.9 341.2 L556.9 341.6 L558.8 342.1 L560.8 342.5 L562.8 342.9 L564.7 343.4 L566.7 343.8 L568.6 344.2 L570.6 344.7 L572.5 345.1 L574.5 345.6 L576.4 346.1 L578.4 346.5 L580.3 347.0 L582.3 347.5 L584.2 348.0 L586.2 348.5 L588.1 349.0 L590.1 349.5 L592.0 350.0 L593.9 350.5 L595.9 351.0 L597.8 351.5 L599.8 352.0 L601.7 352.6 L603.6 353.1 L605.5 353.7 L607.5 354.2 L609.4 354.8 L611.3 355.4 L613.3 355.9 L615.2 356.5 L617.1 357.1 L619.0 357.7 L620.9 358.3 L622.8 358.9 L624.8 359.5 L626.7 360.1 L628.6 360.8 L630.5 361.4 L632.4 362.0 L634.3 362.7"/>
<path class="h" stroke="#EDB120" d="M454.1 323.5 L455.1 325.3 L456.0 327.0 L457.0 328.8 L457.9 330.5 L458.9 332.3 L459.8 334.0 L460.8 335.8 L461.7 337.5 L462.7 339.3 L463.7 341.1 L464.6 342.8 L465.6 344.6 L466.5 346.3 L467.5 348.1 L468.4 349.8 L469.4 351.6 L470.3 353.4 L471.3 355.1 L472.2 356.9 L473.2 358.6 L474.2 360.4 L475.1 362.2 L476.1 363.9 L477.0 365.7 L478.0 367.4 L478.9 369.2 L479.9 371.0 L480.9 372.7 L481.8 374.5 L482.8 376.2 L483.7 378.0 L484.7 379.8 L485.7 381.5 L486.6 383.3 L487.6 385.0 L488.6 386.8 L489.5 388.5 L490.5 390.3 L491.5 392.1 L492.4 393.8 L493.4 395.6 L494.4 397.3 L495.3 399.1 L496.3 400.8 L497.3 402.6 L498.3 404.3 L499.2 406.1 L500.2 407.8 L501.2 409.6 L502.2 411.3 L503.2 413.1 L504.2 414.8 L505.1 416.6 L506.1 418.3 L507.1 420.1 L508.1 421.8 L509.1 423.5 L510.1 425.3 L511.1 427.0 L512.1 428.8 L513.1 430.5 L514.1 432.2 L515.1 434.0 L516.1 435.7 L517.1 437.4 L518.1 439.2 L519.1 440.9 L520.2 442.6 L521.2 444.4 L522.2 446.1 L523.2 447.8 L524.2 449.5 L525.3 451.3 L526.3 453.0 L527.3 454.7 L528.4 456.4 L529.4 458.1 L530.4 459.9 L531.5 461.6 L532.5 463.3 L533.6 465.0 L534.6 466.7 L535.7 468.4 L536.7 470.1 L537.8 471.8 L538.9 473.5 L539.9 475.2 L541.0 476.9 L542.1 478.6 L543.1 480.3 L544.2 482.0"/>
<path class="c" stroke="#dfc457" d="M454.1 323.5 L455.1 325.3 L456.0 327.0 L457.0 328.8 L457.9 330.5 L458.9 332.3 L459.8 334.0 L460.8 335.8 L461.7 337.5 L462.7 339.3 L463.7 341.1 L464.6 342.8 L465.6 344.6 L466.5 346.3 L467.5 348.1 L468.4 349.8 L469.4 351.6 L470.3 353.4 L471.3 355.1 L472.2 356.9 L473.2 358.6 L474.2 360.4 L475.1 362.2 L476.1 363.9 L477.0 365.7 L478.0 367.4 L478.9 369.2 L479.9 371.0 L480.9 372.7 L481.8 374.5 L482.8 376.2 L483.7 378.0 L484.7 379.8 L485.7 381.5 L486.6 383.3 L487.6 385.0 L488.6 386.8 L489.5 388.5 L490.5 390.3 L491.5 392.1 L492.4 393.8 L493.4 395.6 L494.4 397.3 L495.3 399.1 L496.3 400.8 L497.3 402.6 L498.3 404.3 L499.2 406.1 L500.2 407.8 L501.2 409.6 L502.2 411.3 L503.2 413.1 L504.2 414.8 L505.1 416.6 L506.1 418.3 L507.1 420.1 L508.1 421.8 L509.1 423.5 L510.1 425.3 L511.1 427.0 L512.1 428.8 L513.1 430.5 L514.1 432.2 L515.1 434.0 L516.1 435.7 L517.1 437.4 L518.1 439.2 L519.1 440.9 L520.2 442.6 L521.2 444.4 L522.2 446.1 L523.2 447.8 L524.2 449.5 L525.3 451.3 L526.3 453.0 L527.3 454.7 L528.4 456.4 L529.4 458.1 L530.4 459.9 L531.5 461.6 L532.5 463.3 L533.6 465.0 L534.6 466.7 L535.7 468.4 L536.7 470.1 L537.8 471.8 L538.9 473.5 L539.9 475.2 L541.0 476.9 L542.1 478.6 L543.1 480.3 L544.2 482.0"/>
</g>
<g style="filter:grayscale(1)">
<text class="tk" text-anchor="middle" transform="translate(77.20 263.10) scale(1.060 1)">0</text>
<text class="tk" text-anchor="middle" transform="translate(172.20 263.10) scale(1.060 1)">5</text>
<text class="tk" text-anchor="middle" transform="translate(267.20 263.10) scale(1.060 1)">10</text>
<text class="tk" text-anchor="middle" transform="translate(362.20 263.10) scale(1.060 1)">15</text>
<text class="tk" text-anchor="end" transform="translate(69.50 43.40) scale(1.050 1)">0</text>
<text class="tk" text-anchor="end" transform="translate(69.50 94.08) scale(1.050 1)">-0.5</text>
<text class="tk" text-anchor="end" transform="translate(69.50 144.75) scale(1.050 1)">-1</text>
<text class="tk" text-anchor="end" transform="translate(69.50 195.42) scale(1.050 1)">-1.5</text>
<text class="tk" text-anchor="end" transform="translate(69.50 246.10) scale(1.050 1)">-2</text>
<text class="lb" text-anchor="middle" transform="translate(219.60 286.20) scale(1.050 1)">Real(Z) (Ω)</text>
<text class="lb" text-anchor="middle" transform="translate(30.00 137.25) rotate(-90) scale(1.080 1)">Imag(Z) (Ω)</text>
<text class="lb" text-anchor="middle" transform="translate(220.50 29.60) scale(1.000 1)">a)</text>
<text class="mx" x="77.80" y="34.60">×</text>
<text class="tk" text-anchor="start" transform="translate(92.30 32.20) scale(1.060 1)">10</text>
<text class="sp" text-anchor="start" transform="translate(110.70 23.20) scale(1.060 1)">8</text>
<text class="mx" x="322.30" y="293.90">×</text>
<text class="tk" text-anchor="start" transform="translate(336.80 291.50) scale(1.060 1)">10</text>
<text class="sp" text-anchor="start" transform="translate(355.20 282.50) scale(1.060 1)">6</text>
<text class="tk" text-anchor="middle" transform="translate(453.80 263.10) scale(1.060 1)">0</text>
<text class="tk" text-anchor="middle" transform="translate(548.30 263.10) scale(1.060 1)">5</text>
<text class="tk" text-anchor="middle" transform="translate(642.80 263.10) scale(1.060 1)">10</text>
<text class="tk" text-anchor="middle" transform="translate(737.30 263.10) scale(1.060 1)">15</text>
<text class="tk" text-anchor="end" transform="translate(446.10 43.40) scale(1.050 1)">0</text>
<text class="tk" text-anchor="end" transform="translate(446.10 94.08) scale(1.050 1)">-0.5</text>
<text class="tk" text-anchor="end" transform="translate(446.10 144.75) scale(1.050 1)">-1</text>
<text class="tk" text-anchor="end" transform="translate(446.10 195.42) scale(1.050 1)">-1.5</text>
<text class="tk" text-anchor="end" transform="translate(446.10 246.10) scale(1.050 1)">-2</text>
<text class="lb" text-anchor="middle" transform="translate(595.45 286.20) scale(1.050 1)">Real(Z) (Ω)</text>
<text class="lb" text-anchor="middle" transform="translate(406.80 137.25) rotate(-90) scale(1.080 1)">Imag(Z) (Ω)</text>
<text class="lb" text-anchor="middle" transform="translate(596.35 29.60) scale(1.000 1)">b)</text>
<text class="mx" x="454.40" y="34.60">×</text>
<text class="tk" text-anchor="start" transform="translate(468.90 32.20) scale(1.060 1)">10</text>
<text class="sp" text-anchor="start" transform="translate(487.30 23.20) scale(1.060 1)">8</text>
<text class="mx" x="697.40" y="293.90">×</text>
<text class="tk" text-anchor="start" transform="translate(711.90 291.50) scale(1.060 1)">10</text>
<text class="sp" text-anchor="start" transform="translate(730.30 282.50) scale(1.060 1)">6</text>
<text class="tk" text-anchor="middle" transform="translate(77.20 550.30) scale(1.060 1)">0</text>
<text class="tk" text-anchor="middle" transform="translate(172.20 550.30) scale(1.060 1)">5</text>
<text class="tk" text-anchor="middle" transform="translate(267.20 550.30) scale(1.060 1)">10</text>
<text class="tk" text-anchor="middle" transform="translate(362.20 550.30) scale(1.060 1)">15</text>
<text class="tk" text-anchor="end" transform="translate(69.50 331.40) scale(1.050 1)">0</text>
<text class="tk" text-anchor="end" transform="translate(69.50 371.78) scale(1.050 1)">-2</text>
<text class="tk" text-anchor="end" transform="translate(69.50 412.16) scale(1.050 1)">-4</text>
<text class="tk" text-anchor="end" transform="translate(69.50 452.54) scale(1.050 1)">-6</text>
<text class="tk" text-anchor="end" transform="translate(69.50 492.92) scale(1.050 1)">-8</text>
<text class="tk" text-anchor="end" transform="translate(69.50 533.30) scale(1.050 1)">-10</text>
<text class="lb" text-anchor="middle" transform="translate(219.60 573.40) scale(1.050 1)">Real(Z) (Ω)</text>
<text class="lb" text-anchor="middle" transform="translate(34.90 424.85) rotate(-90) scale(1.080 1)">Imag(Z) (Ω)</text>
<text class="lb" text-anchor="middle" transform="translate(220.50 317.60) scale(1.000 1)">c)</text>
<text class="mx" x="77.80" y="322.60">×</text>
<text class="tk" text-anchor="start" transform="translate(92.30 320.20) scale(1.060 1)">10</text>
<text class="sp" text-anchor="start" transform="translate(110.70 311.20) scale(1.060 1)">7</text>
<text class="mx" x="322.30" y="581.10">×</text>
<text class="tk" text-anchor="start" transform="translate(336.80 578.70) scale(1.060 1)">10</text>
<text class="sp" text-anchor="start" transform="translate(355.20 569.70) scale(1.060 1)">6</text>
<text class="tk" text-anchor="middle" transform="translate(453.80 550.30) scale(1.060 1)">0</text>
<text class="tk" text-anchor="middle" transform="translate(524.68 550.30) scale(1.060 1)">2</text>
<text class="tk" text-anchor="middle" transform="translate(595.55 550.30) scale(1.060 1)">4</text>
<text class="tk" text-anchor="middle" transform="translate(666.43 550.30) scale(1.060 1)">6</text>
<text class="tk" text-anchor="middle" transform="translate(737.30 550.30) scale(1.060 1)">8</text>
<text class="tk" text-anchor="end" transform="translate(446.10 331.40) scale(1.050 1)">0</text>
<text class="tk" text-anchor="end" transform="translate(446.10 381.88) scale(1.050 1)">-1</text>
<text class="tk" text-anchor="end" transform="translate(446.10 432.35) scale(1.050 1)">-2</text>
<text class="tk" text-anchor="end" transform="translate(446.10 482.82) scale(1.050 1)">-3</text>
<text class="tk" text-anchor="end" transform="translate(446.10 533.30) scale(1.050 1)">-4</text>
<text class="lb" text-anchor="middle" transform="translate(595.45 573.40) scale(1.050 1)">Real(Z) (Ω)</text>
<text class="lb" text-anchor="middle" transform="translate(420.90 424.85) rotate(-90) scale(1.080 1)">Imag(Z) (Ω)</text>
<text class="lb" text-anchor="middle" transform="translate(596.35 317.60) scale(1.000 1)">d)</text>
<text class="mx" x="454.40" y="322.60">×</text>
<text class="tk" text-anchor="start" transform="translate(468.90 320.20) scale(1.060 1)">10</text>
<text class="sp" text-anchor="start" transform="translate(487.30 311.20) scale(1.060 1)">7</text>
<text class="mx" x="697.40" y="581.10">×</text>
<text class="tk" text-anchor="start" transform="translate(711.90 578.70) scale(1.060 1)">10</text>
<text class="sp" text-anchor="start" transform="translate(730.30 569.70) scale(1.060 1)">6</text>
</g>
</svg></body></html>
